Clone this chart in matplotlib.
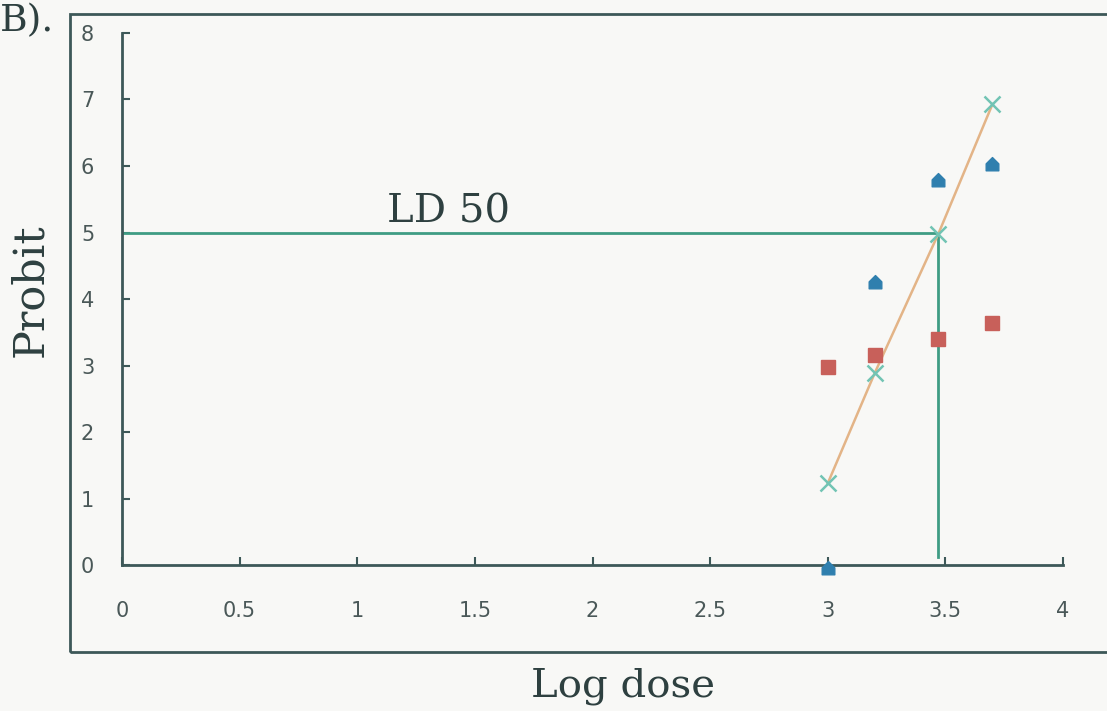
import matplotlib.pyplot as plt
from matplotlib.path import Path
from matplotlib.patches import Rectangle

# log dose values and the three probit series
log_dose = [3.0, 3.2, 3.47, 3.7]
probit_a = [-0.05, 4.26, 5.79, 6.03]
probit_b = [2.98, 3.16, 3.40, 3.64]
probit_fit = [1.23, 2.89, 4.98, 6.93]
ld50_x = 3.47
ld50_y = 5.0

xticks = [0, 0.5, 1, 1.5, 2, 2.5, 3, 3.5, 4]
xtick_labels = ['0', '0.5', '1', '1.5', '2', '2.5', '3', '3.5', '4']
yticks = list(range(0, 9))

axis_col = '#3d5858'
bg = '#f8f8f6'

# house-shaped marker
house = Path([(-1, -1), (1, -1), (1, 0.1), (0, 1.1), (-1, 0.1), (-1, -1)],
             [Path.MOVETO, Path.LINETO, Path.LINETO, Path.LINETO, Path.LINETO, Path.CLOSEPOLY])

fig = plt.figure(figsize=(11.07, 7.11), dpi=100, facecolor=bg)
ax = fig.add_axes([0.1102, 0.2053, 0.8501, 0.7483])
ax.set_facecolor(bg)

# outer frame around the plot
fig.patches.append(Rectangle((0.0632, 0.083), 1.0, 0.897, transform=fig.transFigure,
                             fill=False, edgecolor=axis_col, linewidth=2.0))

ax.plot([0, ld50_x], [ld50_y, ld50_y], color='#3f9c84', linewidth=2)
ax.plot([ld50_x, ld50_x], [ld50_y, 0.12], color='#3f9c84', linewidth=2)
ax.plot(log_dose, probit_fit, color='#e3b487', linewidth=1.8)

ax.plot(log_dose, probit_a, linestyle='none', marker=house, markersize=10,
        color='#2f7fae', clip_on=False, zorder=5)
ax.plot(log_dose, probit_b, linestyle='none', marker='s', markersize=10,
        markerfacecolor='#c8605a', markeredgecolor='#c8605a', clip_on=False, zorder=5)
ax.plot(log_dose, probit_fit, linestyle='none', marker='x', markersize=12,
        markeredgewidth=1.8, color='#72c4b4', clip_on=False, zorder=6)

ax.text(1.386, 5.03, 'LD 50', fontsize=29, family='DejaVu Serif', color='#2e4040',
        ha='center', va='bottom')

ax.set_xlim(0, 4)
ax.set_ylim(0, 8)
ax.set_xticks(xticks)
ax.set_xticklabels(xtick_labels)
ax.set_yticks(yticks)
for side in ['top', 'right']:
    ax.spines[side].set_visible(False)
for side in ['left', 'bottom']:
    ax.spines[side].set_color(axis_col)
    ax.spines[side].set_linewidth(2)
ax.tick_params(axis='both', direction='in', length=6, width=1.5, color=axis_col,
               labelsize=15, labelcolor='#4a5858')
ax.tick_params(axis='x', pad=26)
ax.tick_params(axis='y', pad=20)

fig.text(0.027, 0.592, 'Probit', rotation=90, fontsize=31, family='DejaVu Serif',
         color='#2e4040', ha='center', va='center')
fig.text(0.563, 0.035, 'Log dose', fontsize=29, family='DejaVu Serif',
         color='#2e4040', ha='center', va='center')
fig.text(0.0, 0.97, 'B).', fontsize=27, family='DejaVu Serif',
         color='#2e4040', ha='left', va='center')

fig.savefig('out.png', dpi=100, facecolor=bg)
